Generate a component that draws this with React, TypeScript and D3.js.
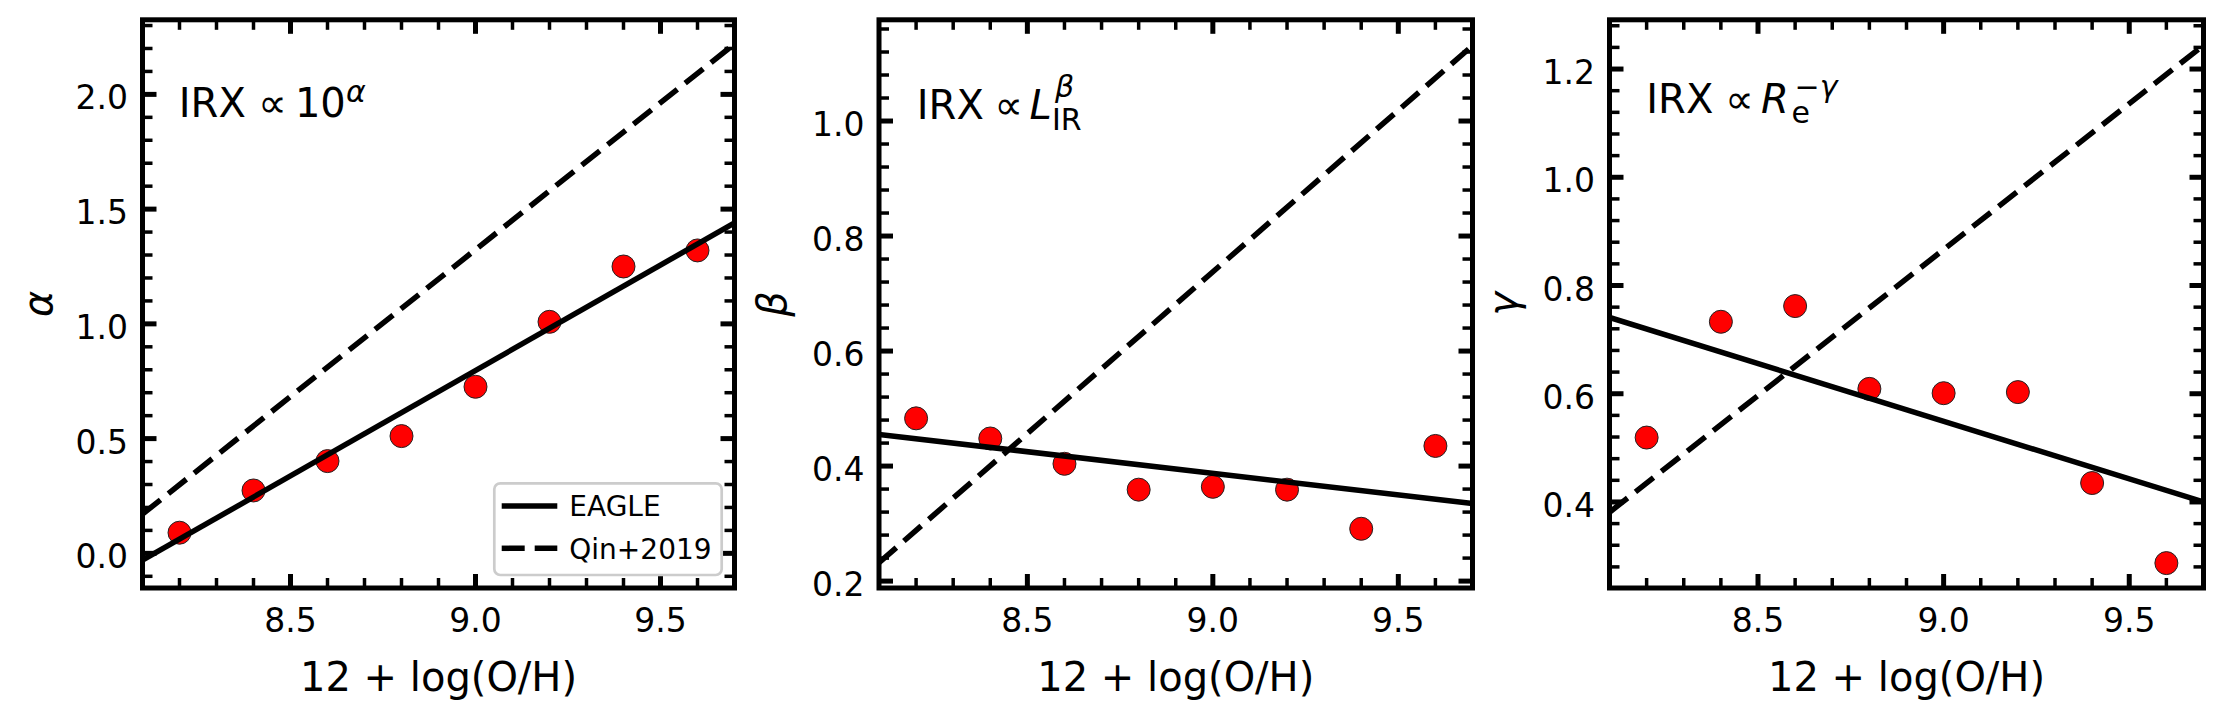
import React from 'react';
import * as d3 from 'd3';

// ---------- data ----------
const metallicity = [8.2, 8.4, 8.6, 8.8, 9.0, 9.2, 9.4, 9.6];
const alphaValues = [0.09, 0.274, 0.402, 0.511, 0.726, 1.009, 1.25, 1.32];
const betaValues = [0.483, 0.448, 0.404, 0.359, 0.364, 0.359, 0.291, 0.435];
const gammaValues = [0.519, 0.733, 0.762, 0.609, 0.601, 0.603, 0.435, 0.287];

const fitX = [8.1, 9.7];
const eagleAlpha = [-0.03, 1.44];
const qinAlpha = [0.171, 2.22];
const eagleBeta = [0.455, 0.335];
const qinBeta = [0.232, 1.131];
const eagleGamma = [0.741, 0.4];
const qinGamma = [0.381, 1.244];

const xDomain = [8.1, 9.7];
const xTicks = [8.5, 9.0, 9.5];
const alphaDomain = [-0.151, 2.325];
const alphaTicks = [0, 0.5, 1.0, 1.5, 2.0];
const betaDomain = [0.188, 1.176];
const betaTicks = [0.2, 0.4, 0.6, 0.8, 1.0];
const gammaDomain = [0.241, 1.291];
const gammaTicks = [0.4, 0.6, 0.8, 1.0, 1.2];

const legendLabels = ['EAGLE', 'Qin+2019'];
const xLabel = '12 + log(O/H)';

// ---------- layout ----------
const W = 2223;
const H = 723;
const TOP = 19.8;
const BOTTOM = 588;
const FONT = 'DejaVu Sans, Verdana, sans-serif';
const SPINE_W = 5;
const MAJOR_LEN = 14;
const MINOR_LEN = 10;
const LINE_W = 5.5;

type PanelSpec = {
  id: string;
  left: number;
  right: number;
  yDomain: number[];
  yTicks: number[];
  yMinorStep: number;
  values: number[];
  eagle: number[];
  qin: number[];
  yLabel: string;
  yLabelOffset: number;
  annotation: (left: number) => React.ReactNode;
  legend?: boolean;
};

function minorTicks(domain: number[], step: number, majors: number[]) {
  const k0 = Math.ceil(domain[0] / step - 1e-6);
  const k1 = Math.floor(domain[1] / step + 1e-6);
  return d3
    .range(k0, k1 + 1)
    .map((k) => +(k * step).toFixed(6))
    .filter((v) => !majors.some((m) => Math.abs(m - v) < 1e-6));
}

const fmt = d3.format('.1f');

function Panel({ spec }: { spec: PanelSpec }) {
  const x = d3.scaleLinear().domain(xDomain).range([spec.left, spec.right]);
  const y = d3.scaleLinear().domain(spec.yDomain).range([BOTTOM, TOP]);
  const line = d3
    .line<number>()
    .x((_, i) => x(fitX[i]))
    .y((d) => y(d));
  const xMinor = minorTicks(xDomain, 0.1, xTicks);
  const yMinor = minorTicks(spec.yDomain, spec.yMinorStep, spec.yTicks);
  const clipId = `clip-${spec.id}`;
  const cx = (spec.left + spec.right) / 2;
  const cy = (TOP + BOTTOM) / 2;

  return (
    <g>
      <defs>
        <clipPath id={clipId}>
          <rect x={spec.left} y={TOP} width={spec.right - spec.left} height={BOTTOM - TOP} />
        </clipPath>
      </defs>
      <g clipPath={`url(#${clipId})`}>
        {spec.values.map((v, i) => (
          <circle
            key={i}
            cx={x(metallicity[i])}
            cy={y(v)}
            r={11.5}
            fill="#ff0000"
            stroke="#222"
            strokeWidth={1}
          />
        ))}
        <path d={line(spec.eagle) || ''} fill="none" stroke="#000" strokeWidth={LINE_W} />
        <path
          d={line(spec.qin) || ''}
          fill="none"
          stroke="#000"
          strokeWidth={LINE_W}
          strokeDasharray="23,10"
        />
      </g>
      {/* ticks */}
      <g stroke="#000">
        {xTicks.map((t) => (
          <g key={`xM${t}`} strokeWidth={5}>
            <line x1={x(t)} x2={x(t)} y1={BOTTOM} y2={BOTTOM - MAJOR_LEN} />
            <line x1={x(t)} x2={x(t)} y1={TOP} y2={TOP + MAJOR_LEN} />
          </g>
        ))}
        {xMinor.map((t) => (
          <g key={`xm${t}`} strokeWidth={3.5}>
            <line x1={x(t)} x2={x(t)} y1={BOTTOM} y2={BOTTOM - MINOR_LEN} />
            <line x1={x(t)} x2={x(t)} y1={TOP} y2={TOP + MINOR_LEN} />
          </g>
        ))}
        {spec.yTicks.map((t) => (
          <g key={`yM${t}`} strokeWidth={5}>
            <line x1={spec.left} x2={spec.left + MAJOR_LEN} y1={y(t)} y2={y(t)} />
            <line x1={spec.right} x2={spec.right - MAJOR_LEN} y1={y(t)} y2={y(t)} />
          </g>
        ))}
        {yMinor.map((t) => (
          <g key={`ym${t}`} strokeWidth={3.5}>
            <line x1={spec.left} x2={spec.left + MINOR_LEN} y1={y(t)} y2={y(t)} />
            <line x1={spec.right} x2={spec.right - MINOR_LEN} y1={y(t)} y2={y(t)} />
          </g>
        ))}
      </g>
      <rect
        x={spec.left}
        y={TOP}
        width={spec.right - spec.left}
        height={BOTTOM - TOP}
        fill="none"
        stroke="#000"
        strokeWidth={SPINE_W}
      />
      {/* tick labels */}
      <g fontFamily={FONT} fontSize={33} fill="#000">
        {xTicks.map((t) => (
          <text key={`xl${t}`} x={x(t)} y={631.5} textAnchor="middle">
            {fmt(t)}
          </text>
        ))}
        {spec.yTicks.map((t) => (
          <text key={`yl${t}`} x={spec.left - 14.5} y={y(t) + 15} textAnchor="end">
            {fmt(t)}
          </text>
        ))}
      </g>
      {/* axis labels */}
      <text x={cx} y={691} textAnchor="middle" fontFamily={FONT} fontSize={40} fill="#000">
        {xLabel}
      </text>
      <text
        transform={`translate(${spec.left + spec.yLabelOffset},${cy}) rotate(-90)`}
        textAnchor="middle"
        fontFamily={FONT}
        fontStyle="italic"
        fontSize={40}
        fill="#000"
      >
        {spec.yLabel}
      </text>
      {spec.annotation(spec.left)}
      {spec.legend && <Legend right={spec.right} />}
    </g>
  );
}

function Legend({ right }: { right: number }) {
  const bx = right - 12.8 - 227.4;
  const by = BOTTOM - 13 - 91.7;
  const rows = [
    { label: legendLabels[0], dash: undefined as string | undefined, ly: 22.7, ty: 32.7 },
    { label: legendLabels[1], dash: '23,10', ly: 65, ty: 75.7 },
  ];
  return (
    <g>
      <rect
        x={bx}
        y={by}
        width={227.4}
        height={91.7}
        rx={6}
        ry={6}
        fill="#fff"
        fillOpacity={0.8}
        stroke="#cccccc"
        strokeWidth={2.7}
      />
      {rows.map((r) => (
        <g key={r.label}>
          <line
            x1={bx + 7.4}
            x2={bx + 63}
            y1={by + r.ly}
            y2={by + r.ly}
            stroke="#000"
            strokeWidth={LINE_W}
            strokeDasharray={r.dash}
          />
          <text x={bx + 75} y={by + r.ty} fontFamily={FONT} fontSize={28} fill="#000">
            {r.label}
          </text>
        </g>
      ))}
    </g>
  );
}

const base = { fontFamily: FONT, fill: '#000' };

const annAlpha = (L: number) => (
  <text {...base} fontSize={40}>
    <tspan x={L + 36.3} y={116.7}>IRX</tspan>
    <tspan x={L + 130} y={116.7} textAnchor="middle">∝</tspan>
    <tspan x={L + 152.4} y={116.7}>10</tspan>
    <tspan x={L + 203.5} y={101.5} fontSize={30} fontStyle="italic">α</tspan>
  </text>
);

const annBeta = (L: number) => (
  <text {...base} fontSize={40}>
    <tspan x={L + 37.8} y={119.3}>IRX</tspan>
    <tspan x={L + 129.9} y={119.3} textAnchor="middle">∝</tspan>
    <tspan x={L + 150.5} y={119.3} fontStyle="italic">L</tspan>
    <tspan x={L + 176} y={96.5} fontSize={30} fontStyle="italic">β</tspan>
    <tspan x={L + 173} y={130} fontSize={30}>IR</tspan>
  </text>
);

const annGamma = (L: number) => (
  <text {...base} fontSize={40}>
    <tspan x={L + 36.8} y={112.7}>IRX</tspan>
    <tspan x={L + 130} y={112.7} textAnchor="middle">∝</tspan>
    <tspan x={L + 151.5} y={112.7} fontStyle="italic">R</tspan>
    <tspan x={L + 182} y={122.5} fontSize={30}>e</tspan>
    <tspan x={L + 185} y={97} fontSize={30}>−</tspan>
    <tspan y={97} fontSize={30} fontStyle="italic">γ</tspan>
  </text>
);

const panels: PanelSpec[] = [
  {
    id: 'a',
    left: 142.5,
    right: 734.5,
    yDomain: alphaDomain,
    yTicks: alphaTicks,
    yMinorStep: 0.1,
    values: alphaValues,
    eagle: eagleAlpha,
    qin: qinAlpha,
    yLabel: 'α',
    yLabelOffset: -91,
    annotation: annAlpha,
    legend: true,
  },
  {
    id: 'b',
    left: 879,
    right: 1472.5,
    yDomain: betaDomain,
    yTicks: betaTicks,
    yMinorStep: 0.04,
    values: betaValues,
    eagle: eagleBeta,
    qin: qinBeta,
    yLabel: 'β',
    yLabelOffset: -93,
    annotation: annBeta,
  },
  {
    id: 'c',
    left: 1609.5,
    right: 2203.5,
    yDomain: gammaDomain,
    yTicks: gammaTicks,
    yMinorStep: 0.04,
    values: gammaValues,
    eagle: eagleGamma,
    qin: qinGamma,
    yLabel: 'γ',
    yLabelOffset: -93,
    annotation: annGamma,
  },
];

export default function App() {
  return (
    <svg
      width={W}
      height={H}
      viewBox={`0 0 ${W} ${H}`}
      style={{ position: 'absolute', left: 0, top: 0, background: '#fff' }}
    >
      <rect x={0} y={0} width={W} height={H} fill="#fff" />
      {panels.map((p) => (
        <Panel key={p.id} spec={p} />
      ))}
    </svg>
  );
}
